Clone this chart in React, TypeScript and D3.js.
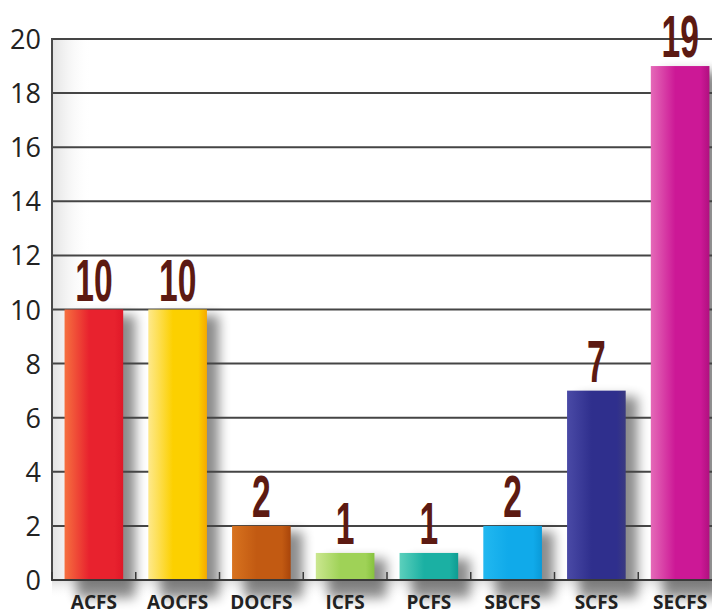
import React from "react";
import * as d3 from "d3";

const categories = ["ACFS", "AOCFS", "DOCFS", "ICFS", "PCFS", "SBCFS", "SCFS", "SECFS"];
const values = [10, 10, 2, 1, 1, 2, 7, 19];
const yTicks = [0, 2, 4, 6, 8, 10, 12, 14, 16, 18, 20];
const barColors: string[][] = [
  ["#f6703f", "#e8222e", "#e01828"],
  ["#fee98c", "#fcd000", "#f6a900"],
  ["#d8731f", "#c25a12", "#a9450a"],
  ["#cbe790", "#9fd257", "#86c23e"],
  ["#5cd0bc", "#1bb0a3", "#0e9c92"],
  ["#22b8f0", "#10aaea", "#0a9ad8"],
  ["#4a4aa6", "#2f2f8d", "#3a3a80"],
  ["#e56ab8", "#cc1896", "#b0107f"],
];

const W = 712;
const H = 614;
const left = 52;
const right = 722;
const top = 39;
const bottom = 580;

export default function App() {
  const x = d3.scaleBand<string>().domain(categories).range([left, right]).paddingInner(0.3).paddingOuter(0.15);
  const y = d3.scaleLinear().domain([0, 20]).range([bottom, top]);
  const step = x.step();
  const boundaries = d3.range(categories.length + 1).map((k) => left + k * step);

  return (
    <svg width={W} height={H} style={{ position: "absolute", left: 0, top: 0, background: "#fff" }}>
      <defs>
        {barColors.map((c, i) => (
          <linearGradient key={i} id={`g${i}`} x1="0" x2="1" y1="0" y2="0">
            <stop offset="0" stopColor={c[0]} />
            <stop offset="0.42" stopColor={c[1]} />
            <stop offset="0.85" stopColor={c[1]} />
            <stop offset="1" stopColor={c[2]} />
          </linearGradient>
        ))}
        <filter id="blur" x="-50%" y="-20%" width="200%" height="150%">
          <feGaussianBlur stdDeviation="6" />
        </filter>
        <linearGradient id="leftGlow" x1="0" x2="1" y1="0" y2="0">
          <stop offset="0" stopColor="#e2e2e2" />
          <stop offset="1" stopColor="#ffffff" stopOpacity="0" />
        </linearGradient>
        <linearGradient id="bottomShade" x1="0" x2="0" y1="0" y2="1">
          <stop offset="0" stopColor="#c8c8c8" stopOpacity="0.6" />
          <stop offset="1" stopColor="#ffffff" stopOpacity="0" />
        </linearGradient>
      </defs>

      {/* plot background glow */}
      <rect x={left} y={top} width={40} height={bottom - top} fill="url(#leftGlow)" />
      <rect x={left} y={bottom} width={W - left} height={18} fill="url(#bottomShade)" />

      {/* bar shadows */}
      <g filter="url(#blur)" opacity={0.45}>
        {categories.map((c, i) => (
          <rect
            key={c}
            x={x(c)! + 12}
            y={y(values[i]) + 6}
            width={x.bandwidth()}
            height={bottom - y(values[i]) + 12}
            fill="#000"
          />
        ))}
      </g>

      {/* grid lines */}
      {yTicks.map((t) => (
        <line key={t} x1={left} x2={W} y1={y(t)} y2={y(t)} stroke="#454545" strokeWidth={2} />
      ))}

      {/* bars */}
      {categories.map((c, i) => (
        <rect
          key={c}
          x={x(c)!}
          y={y(values[i])}
          width={x.bandwidth()}
          height={bottom - y(values[i])}
          fill={`url(#g${i})`}
        />
      ))}

      {/* axes */}
      <line x1={left} x2={left} y1={top - 1} y2={bottom + 1} stroke="#4a4a4a" strokeWidth={2} />
      <line x1={left} x2={W} y1={bottom} y2={bottom} stroke="#3a3a3a" strokeWidth={2} />
      {boundaries.map((b, i) => (
        <line key={i} x1={b} x2={b} y1={bottom} y2={bottom - 8} stroke="#3a3a3a" strokeWidth={1.5} />
      ))}

      {/* y tick labels */}
      {yTicks.map((t) => (
        <text
          key={t}
          x={41}
          y={y(t) + 10}
          textAnchor="end"
          fontFamily="'Open Sans', 'DejaVu Sans', sans-serif"
          fontSize={27}
          fill="#222"
        >
          {t}
        </text>
      ))}

      {/* x labels */}
      {categories.map((c) => (
        <text
          key={c}
          x={x(c)! + x.bandwidth() / 2}
          y={609}
          textAnchor="middle"
          fontFamily="'Open Sans', 'Liberation Sans', sans-serif"
          fontWeight="bold"
          fontSize={19}
          fill="#222"
        >
          {c}
        </text>
      ))}

      {/* value labels */}
      {categories.map((c, i) => (
        <text
          key={c}
          transform={`translate(${x(c)! + x.bandwidth() / 2},${y(values[i]) - 9}) scale(0.56,1)`}
          textAnchor="middle"
          fontFamily="'Liberation Sans', Arial, sans-serif"
          fontWeight="bold"
          fontSize={60}
          fill="#5c1a12"
        >
          {values[i]}
        </text>
      ))}
    </svg>
  );
}
